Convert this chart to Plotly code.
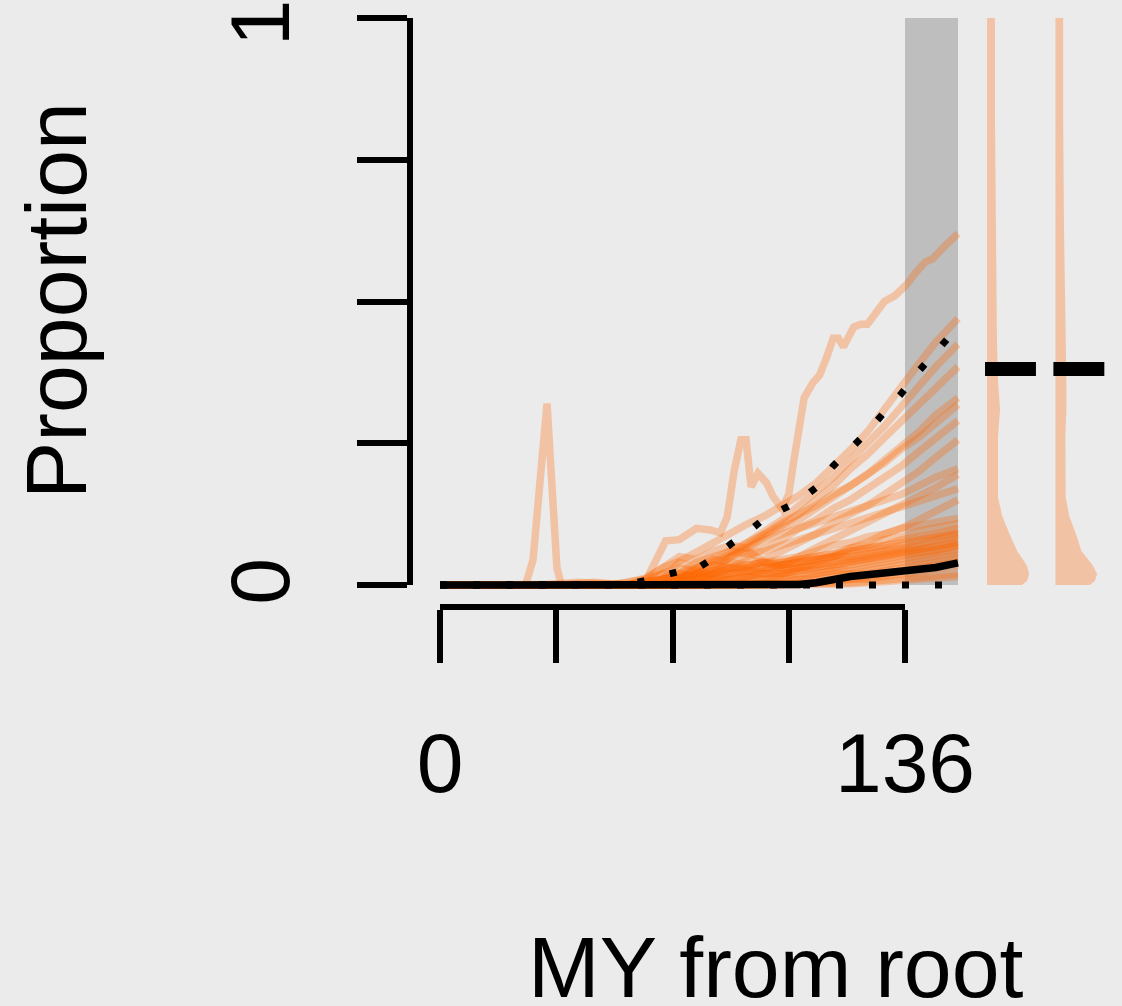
import plotly.graph_objects as go

# time grid (MY from root) shared by most trajectories
X = [0, 10, 20, 30, 40, 50, 55, 60, 65, 70, 75, 80, 85, 90, 95, 100,
     105, 110, 115, 120, 125, 130, 135, 140, 145, 151.5]

# the highest trajectory (own time points, has a spike near 89 MY)
top_x = [0, 55, 60, 62, 64, 66, 70, 73, 75, 79, 82, 84, 86, 88, 89.5, 91, 93,
         95.5, 97.5, 100, 102, 103.5, 105, 106.5, 109, 111, 113, 115, 116.5,
         118, 121, 123, 125, 128, 130, 133, 136.5, 139, 142, 144, 146, 148, 151.5]
top_y = [0, 0, .005, .03, .06, .078, .08, .092, .10, .097, .092, .12, .20, .256,
         .256, .173, .197, .18, .155, .135, .16, .22, .28, .33, .356, .37, .40,
         .435, .435, .42, .455, .46, .46, .485, .50, .51, .53, .55, .57, .575,
         .59, .60, .62]

# trajectory with the early spike around 31 MY
spike_x = [0, 25, 27.2, 31.3, 34.2, 35.5, 45, 55, 65, 75, 85, 95, 105, 115,
           125, 135, 145, 151.5]
spike_y = [0, 0, .044, .32, .03, 0, .005, 0, .01, .015, .02, .025, .03, .035,
           .045, .055, .06, .07]

# remaining trajectories on the shared grid
mid_lines = [
    [0, 0, 0, 0, 0, 0, .005, .012, .03, .042, .058, .075, .09, .108, .122, .14, .158, .18, .208, .238, .27, .308, .35, .39, .428, .47],
    [0, 0, 0, 0, 0, 0, 0, .005, .01, .02, .03, .045, .06, .075, .095, .115, .14, .165, .19, .22, .25, .28, .315, .35, .385, .425],
    [0, 0, 0, 0, 0, 0, 0, 0, .005, .012, .02, .035, .05, .07, .09, .105, .125, .15, .175, .205, .23, .26, .29, .32, .35, .385],
    [0, 0, 0, 0, 0, 0, 0, 0, 0, .01, .02, .03, .05, .065, .085, .10, .115, .135, .155, .175, .195, .22, .245, .27, .30, .33],
    [0, 0, 0, 0, 0, 0, 0, .005, .01, .015, .025, .04, .055, .075, .09, .11, .125, .14, .16, .175, .195, .215, .24, .26, .285, .318],
    [0, 0, 0, 0, 0, 0, 0, 0, 0, .005, .015, .025, .035, .05, .065, .08, .10, .115, .135, .15, .17, .19, .21, .235, .26, .29],
    [0, 0, 0, 0, 0, 0, 0, 0, 0, 0, .005, .012, .02, .03, .045, .06, .075, .09, .11, .125, .14, .16, .18, .20, .225, .256],
    [0, 0, 0, 0, 0, 0, 0, .01, .03, .05, .045, .06, .07, .065, .08, .09, .10, .11, .12, .13, .14, .15, .16, .175, .19, .205],
    [0, 0, 0, 0, 0, 0, 0, 0, 0, 0, 0, .005, .01, .015, .025, .035, .05, .065, .08, .095, .11, .125, .14, .155, .172, .195],
    [0, 0, 0, 0, 0, 0, 0, 0, .005, .02, .04, .05, .06, .055, .06, .07, .08, .09, .10, .11, .12, .13, .14, .15, .16, .17],
    [0, 0, 0, 0, 0, 0, 0, 0, 0, 0, 0, 0, 0, .005, .01, .02, .03, .04, .05, .065, .075, .09, .10, .115, .13, .15],
]

low_lines = [
    [0, 0, 0, 0, 0, 0, 0, .005, .02, .03, .025, .02, .03, .035, .04, .045, .05, .06, .07, .075, .085, .09, .10, .105, .11, .118],
    [0, 0, 0, 0, 0, 0, 0, 0, .01, .04, .03, .035, .03, .03, .035, .04, .045, .05, .055, .065, .07, .08, .085, .095, .10, .108],
    [0, 0, 0, 0, .005, 0, 0, 0, 0, .01, .02, .025, .03, .025, .03, .035, .04, .045, .05, .06, .065, .07, .08, .085, .09, .10],
    [0, 0, 0, 0, 0, 0, .005, .01, .02, .015, .02, .02, .025, .03, .03, .035, .04, .045, .05, .055, .06, .065, .07, .08, .085, .094],
    [0, 0, 0, 0, 0, 0, 0, 0, 0, .01, .03, .045, .04, .035, .04, .04, .045, .05, .055, .06, .065, .07, .075, .08, .085, .09],
    [0, 0, 0, 0, 0, 0, 0, 0, 0, .005, .01, .02, .03, .045, .04, .035, .04, .045, .05, .05, .055, .06, .065, .07, .08, .088],
    [0, 0, 0, 0, 0, 0, 0, 0, 0, 0, .01, .02, .05, .06, .04, .03, .03, .035, .04, .045, .05, .055, .06, .065, .07, .075],
    [0, 0, 0, 0, 0, 0, 0, 0, 0, 0, 0, .005, .01, .015, .02, .025, .03, .035, .04, .045, .05, .055, .06, .065, .072, .082],
    [0, 0, 0, 0, 0, 0, 0, 0, .01, .02, .015, .01, .01, .015, .02, .02, .025, .03, .035, .04, .045, .05, .055, .06, .068, .076],
    [0, 0, 0, 0, 0, 0, 0, 0, 0, 0, .005, .01, .02, .025, .02, .02, .025, .025, .03, .035, .04, .045, .05, .055, .062, .07],
    [0, 0, 0, 0, 0, 0, 0, 0, 0, 0, 0, 0, .005, .01, .01, .015, .02, .02, .025, .03, .035, .04, .045, .05, .056, .064],
    [0, 0, 0, 0, 0, 0, 0, 0, 0, .005, .01, .01, .015, .015, .01, .015, .015, .02, .025, .025, .03, .035, .04, .045, .05, .058],
    [0, 0, 0, 0, 0, 0, 0, 0, 0, 0, 0, 0, 0, 0, .005, .01, .01, .015, .02, .02, .025, .03, .035, .04, .045, .052],
    [0, 0, 0, 0, 0, 0, 0, 0, 0, 0, 0, 0, 0, 0, 0, .005, .01, .01, .015, .02, .02, .025, .03, .035, .04, .046],
    [0, 0, 0, 0, 0, 0, 0, 0, 0, 0, 0, 0, 0, 0, 0, 0, .005, .005, .01, .01, .015, .02, .025, .03, .035, .04],
    [0, 0, 0, 0, 0, 0, 0, 0, 0, 0, 0, 0, 0, 0, 0, 0, 0, .005, .005, .01, .01, .015, .02, .022, .028, .034],
    [0, 0, 0, 0, 0, 0, 0, 0, 0, 0, 0, 0, 0, 0, 0, 0, 0, 0, .002, .004, .006, .008, .01, .013, .016, .02],
    [0, 0, 0, 0, 0, 0, 0, 0, 0, 0, 0, 0, 0, 0, 0, 0, 0, 0, 0, .002, .004, .006, .008, .01, .012, .015],
]

# summary lines
median = [0, 0, 0, 0, 0, 0, 0, 0, 0, 0, 0, 0, 0, 0, 0, 0, .001, .004, .011, .015, .018, .021, .023, .026, .031, .039]
q_upper = [0, 0, 0, 0, 0, 0, .001, .008, .017, .024, .028, .048, .072, .093, .118, .132, .148, .172, .21, .24, .27, .305, .338, .377, .41, .455]
q_lower = [0] * len(X)

# shaded window
window = (136, 151.5)

# half-violins (density widths in MY units) and their marks
violin_y = [1.0, .83, .63, .43, .36, .31, .26, .155, .122, .088, .06, .034, .019, .007, 0]
violin_left_w = [2.3, 2.3, 2.6, 2.9, 3.2, 3.8, 3.2, 3.2, 4.4, 6.7, 8.8, 11.7, 12.3, 11.7, 10.2]
violin_right_w = [2.25, 2.25, 2.5, 3.0, 3.2, 3.2, 2.9, 3.0, 4.0, 6.1, 7.6, 11.0, 12.2, 11.5, 10.0]
violin_base = [160, 180]
violin_mark = 0.381

x_ticks = [0, 34, 68, 102, 136]
x_ticktext = ["0", "", "", "", "136"]
y_ticks = [0, 0.25, 0.5, 0.75, 1]
# thin space after the top label keeps its rotated glyph off the page edge
y_ticktext = ["0", "", "", "", "1\u2009"]

W, H = 1122, 1006
BG = "#EBEBEB"
ORANGE = "rgba(255,102,0,0.3)"
FONT = "Liberation Sans, Arial, Helvetica, sans-serif"

# pixel anchors of the data area
px_x0, px_x136 = 440, 905
py_y0, py_y1 = 585, 18
sx = (px_x136 - px_x0) / 136
sy = (py_y0 - py_y1) / 1.0
x_lo = -px_x0 / sx
x_hi = x_lo + W / sx
y_hi = 1 + py_y1 / sy
y_lo = y_hi - H / sy

fig = go.Figure()

for ys in low_lines + mid_lines:
    fig.add_trace(go.Scatter(x=X, y=ys, mode="lines",
                             line=dict(color=ORANGE, width=7.5), hoverinfo="skip"))
fig.add_trace(go.Scatter(x=spike_x, y=spike_y, mode="lines",
                         line=dict(color=ORANGE, width=7.5), hoverinfo="skip"))
fig.add_trace(go.Scatter(x=top_x, y=top_y, mode="lines",
                         line=dict(color=ORANGE, width=7.5), hoverinfo="skip"))

for base, widths in zip(violin_base, [violin_left_w, violin_right_w]):
    vx = [base] * len(violin_y) + [base + w for w in widths[::-1]]
    vy = violin_y + violin_y[::-1]
    fig.add_trace(go.Scatter(x=vx, y=vy, mode="lines", fill="toself",
                             fillcolor=ORANGE, line=dict(width=0), hoverinfo="skip"))
    fig.add_trace(go.Scatter(x=[base - 0.6, base + 14.3], y=[violin_mark] * 2, mode="lines",
                             line=dict(color="black", width=14), hoverinfo="skip"))

for q in (q_upper, q_lower):
    fig.add_trace(go.Scatter(x=X, y=q, mode="lines",
                             line=dict(color="black", width=7, dash="7px,26px"),
                             hoverinfo="skip"))
fig.add_trace(go.Scatter(x=X, y=median, mode="lines",
                         line=dict(color="black", width=7.5), hoverinfo="skip"))

# empty trace to carry the visible axes
fig.add_trace(go.Scatter(x=[], y=[], xaxis="x2", yaxis="y2", mode="lines", hoverinfo="skip"))

fig.add_shape(type="rect", xref="x", yref="y", x0=window[0], x1=window[1], y0=0, y1=1,
              fillcolor="#BEBEBE", line=dict(width=0), layer="below")

axis_common = dict(showgrid=False, zeroline=False, showline=True, linecolor="black",
                   linewidth=6, ticks="outside", tickcolor="black", tickwidth=6,
                   automargin=False, ticklabeloverflow="allow",
                   tickfont=dict(family=FONT, size=84, color="black"))

fig.update_layout(
    width=W, height=H, autosize=False,
    margin=dict(l=0, r=0, t=0, b=0, pad=0, autoexpand=False),
    paper_bgcolor=BG, plot_bgcolor="rgba(0,0,0,0)",
    showlegend=False,
    xaxis=dict(domain=[0, 1], range=[x_lo, x_hi], visible=False, fixedrange=True),
    yaxis=dict(domain=[0, 1], range=[y_lo, y_hi], visible=False, fixedrange=True),
    xaxis2=dict(domain=[px_x0 / W, px_x136 / W], range=[0, 136], anchor="free",
                position=1 - 607 / H, tickmode="array", tickvals=x_ticks,
                ticktext=x_ticktext, ticklen=53, ticklabelstandoff=28, **axis_common),
    yaxis2=dict(domain=[1 - py_y0 / H, 1 - py_y1 / H], range=[0, 1], anchor="free",
                position=410 / W, tickmode="array", tickvals=y_ticks,
                ticktext=y_ticktext, ticklen=50, tickangle=-90, ticklabelstandoff=34,
                ticklabelshift=9, **axis_common),
    annotations=[
        dict(text="Proportion", xref="paper", yref="paper", x=56 / W, y=1 - 301 / H,
             xanchor="center", yanchor="middle", textangle=-90, showarrow=False,
             font=dict(family=FONT, size=86, color="black")),
        dict(text="MY from root", xref="paper", yref="paper", x=776 / W, y=1 - 967 / H,
             xanchor="center", yanchor="middle", showarrow=False,
             font=dict(family=FONT, size=86, color="black")),
    ],
)

fig.write_html("out.html", config={"displayModeBar": False},
               post_script="document.body.style.margin='0';"
               "document.body.style.background='#EBEBEB';")
